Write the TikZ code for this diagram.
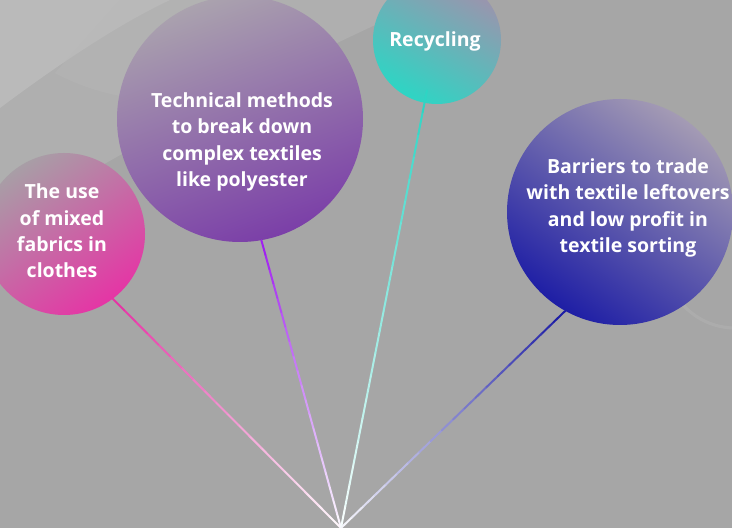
\documentclass[tikz,border=0pt]{standalone}
\usepackage{fontspec}
\setmainfont[Ligatures=NoCommon]{Open Sans}
\usetikzlibrary{calc}
\definecolor{backgray}{RGB}{166, 166, 166}
\definecolor{silkgray}{RGB}{184, 184, 184}
\definecolor{orchid}{RGB}{229, 53, 165}
\definecolor{orchidfade}{RGB}{168, 158, 166}
\definecolor{amethyst}{RGB}{123, 63, 168}
\definecolor{amethystfade}{RGB}{170, 162, 174}
\definecolor{electricviolet}{RGB}{160, 32, 240}
\definecolor{aqua}{RGB}{46, 213, 196}
\definecolor{aquafade}{RGB}{157, 147, 173}
\definecolor{ultramarine}{RGB}{30, 30, 165}
\definecolor{ultramarinefade}{RGB}{164, 155, 180}

\begin{document}
\begin{tikzpicture}[x=1pt, y=1pt,
        bubble/.style={circle, inner sep=0pt, draw=none},
        bubbletext/.style={text=white, font=\bfseries\fontsize{19.5}{26.3}\selectfont, align=center, inner sep=0pt}]
            % background and the silk behind
            \fill[backgray]                                        (0, 0) rectangle (732, 528);
            \useasboundingbox                                      (0, 0) rectangle (732, 528);
            \fill[silkgray, opacity=0.5]  (0, 528) -- (430, 528) .. controls (300, 470) and (120, 380) .. (0, 300) -- cycle;
            \fill[silkgray!60!white, opacity=0.3] (0, 528) -- (170, 528) .. controls (110, 500) and (40, 450) .. (0, 420) -- cycle;
            \fill[silkgray, opacity=0.4]  (55, 455) .. controls (120, 420) and (200, 420) .. (260, 450) -- (260, 528) -- (120, 528) -- cycle;
            \draw[white, opacity=0.08, line width=3pt] (735, 200) arc (270:180:70);

            % the four balloons
            \node[bubble, minimum size=162pt, top color=orchidfade,      bottom color=orchid,      shading angle=35]  (fabrics) at ( 64, 294) {};
            \node[bubble, minimum size=246pt, top color=amethystfade,    bottom color=amethyst,    shading angle=20]  (tech)    at (240, 409) {};
            \node[bubble, minimum size=128pt, top color=aquafade,        bottom color=aqua,        shading angle=-30] (recycle) at (437, 488) {};
            \node[bubble, minimum size=226pt, top color=ultramarinefade, bottom color=ultramarine, shading angle=-35] (barrier) at (620, 316) {};

            \node[bubbletext] (fabricslabel) at ( 62, 297) {The use\\of mixed\\fabrics in\\clothes};
            \node[bubbletext] (techlabel)    at (242, 386) {Technical methods\\to break down\\complex textiles\\like polyester};
            \node[bubbletext] (recyclelabel) at (435, 487) {Recycling};
            \node[bubbletext] (barrierlabel) at (628, 320) {Barriers to trade\\with textile leftovers\\and low profit in\\textile sorting};

            % strings, white at the knot
            \coordinate (apex)       at (341, 0);
            \coordinate (recycletip) at ([yshift=13pt]recycle.-99);
            \foreach \tip/\col in {fabrics.-53/orchid, tech.-80/electricviolet, recycletip/aqua, barrier.-119/ultramarine} {
                \foreach \i in {0,...,19} {
                    \pgfmathtruncatemacro{\p}{5*\i+5}
                    \draw[\col!\p!white, line width=2pt, line cap=round] ($(apex)!{\i/20}!(\tip)$) -- ($(apex)!{(\i+1)/20}!(\tip)$);
                }
            }
        \end{tikzpicture}
\end{document}
